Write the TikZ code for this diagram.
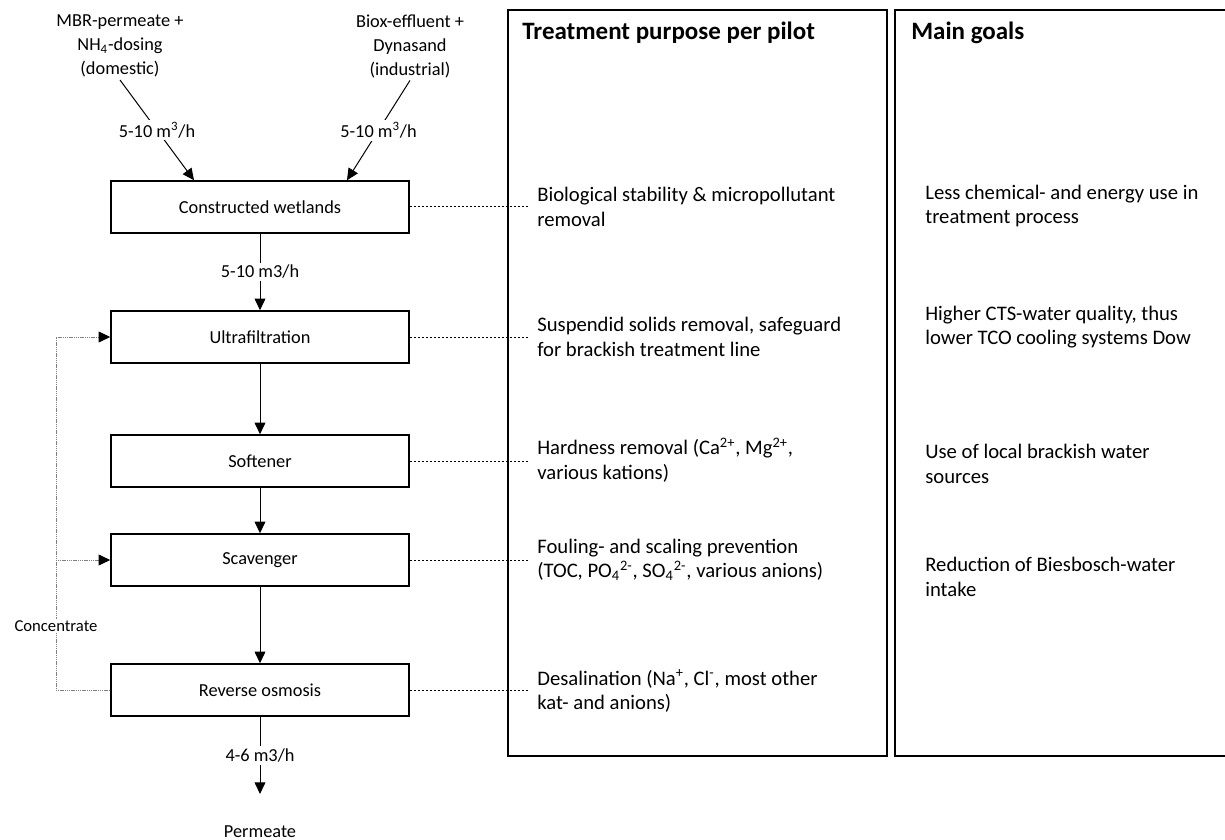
\documentclass[tikz,border=0pt]{standalone}
\usepackage{fontspec}
\setmainfont{Carlito}
\usetikzlibrary{arrows.meta, calc}

\tikzset{
  unit/.style={draw, line width=0.9pt, minimum width=178.8pt, minimum height=31.2pt},
  flow/.style={line width=0.6pt, -{Triangle[length=7pt, width=6.5pt]}},
  conc/.style={gray, line width=0.6pt, dash pattern=on 0.7pt off 0.4pt, -{Triangle[length=7pt, width=6.5pt, color=black]}},
  link/.style={line width=0.6pt, dash pattern=on 1.2pt off 1.2pt, shorten >=5.4pt},
  rate/.style={fill=white, inner sep=1.5pt},
  source/.style={align=center, inner sep=1.5pt},
  purpose/.style={anchor=west, align=left, inner sep=0pt, font=\fontsize{12.4}{14.6}\selectfont},
  heading/.style={anchor=west, inner sep=0pt, font=\bfseries\fontsize{15}{18}\selectfont},
  panel/.style={line width=0.9pt}
}

\begin{document}
\begin{tikzpicture}[x=0.6pt, y=-0.6pt, font=\fontsize{11}{14.4}\selectfont]
\useasboundingbox (0,0) rectangle (1225,840);

% Panels
\draw[panel] (508,10) rectangle (887,756);
\draw[panel] (1235,10) -- (895,10) -- (895,756) -- (1235,756);
\node[heading] (hpurpose) at (522,33) {Treatment purpose per pilot};
\node[heading] (hgoals) at (911,33) {Main goals};

% Sources
\node[source] (mbr) at (120,46) {MBR-permeate +\\NH\textsubscript{4}-dosing\\(domestic)};
\node[source] (biox) at (410,46) {Biox-effluent +\\Dynasand\\(industrial)};

% Treatment line
\node[unit] (cw) at (260,207) {Constructed wetlands};
\node[unit] (uf) at (260,337) {Ultrafiltration};
\node[unit] (soft) at (260,461) {Softener};
\node[unit] (scav) at (260,560) {Scavenger};
\node[unit] (ro) at (260,690) {Reverse osmosis};
\coordinate (permin) at (260,794);
\node (perm) at (260,832) {Permeate};

% Flows
\draw[flow] (mbr.south) -- node[rate] {5-10 m\textsuperscript{3}/h} ($(cw.north)+(-66,0)$);
\draw[flow] (biox.south) -- node[rate] {5-10 m\textsuperscript{3}/h} ($(cw.north)+(87,0)$);
\draw[flow] (cw) -- node[rate] {5-10 m3/h} (uf);
\draw[flow] (uf) -- (soft);
\draw[flow] (soft) -- (scav);
\draw[flow] (scav) -- (ro);
\draw[flow] (ro) -- node[rate] {4-6 m3/h} (permin);

% Concentrate back to UF and scavenger
\coordinate (cback) at (56,690);
\draw[conc] (ro.west) -- (cback) |- (uf.west);
\draw[conc] (cback |- scav.west) -- (scav.west);
\node[fill=white, inner sep=1pt, font=\fontsize{10}{12}\selectfont] (conclab) at (56,626) {Concentrate};

% Treatment purpose per pilot
\node[purpose] (pcw) at (537,207) {Biological stability \& micropollutant\\removal};
\node[purpose] (puf) at (537,337) {Suspendid solids removal, safeguard\\for brackish treatment line};
\node[purpose] (psoft) at (537,460) {Hardness removal (Ca\textsuperscript{2+}, Mg\textsuperscript{2+},\\various kations)};
\node[purpose] (pscav) at (537,560) {Fouling- and scaling prevention\\(TOC, PO\textsubscript{4}\textsuperscript{2-}, SO\textsubscript{4}\textsuperscript{2-}, various anions)};
\node[purpose] (pro) at (537,691) {Desalination (Na\textsuperscript{+}, Cl\textsuperscript{-}, most other\\kat- and anions)};

% Dotted links
\draw[link] (cw.east) -- (cw.east -| pcw.west);
\draw[link] (uf.east) -- (uf.east -| puf.west);
\draw[link] (soft.east) -- (soft.east -| psoft.west);
\draw[link] (scav.east) -- (scav.east -| pscav.west);
\draw[link] (ro.east) -- (ro.east -| pro.west);

% Main goals
\node[purpose] (gcw) at (925,206) {Less chemical- and energy use in\\treatment process};
\node[purpose] (guf) at (925,327) {Higher CTS-water quality, thus\\lower TCO cooling systems Dow};
\node[purpose] (gsoft) at (925,464) {Use of local brackish water\\sources};
\node[purpose] (gscav) at (925,577) {Reduction of Biesbosch-water\\intake};

\end{tikzpicture}
\end{document}
